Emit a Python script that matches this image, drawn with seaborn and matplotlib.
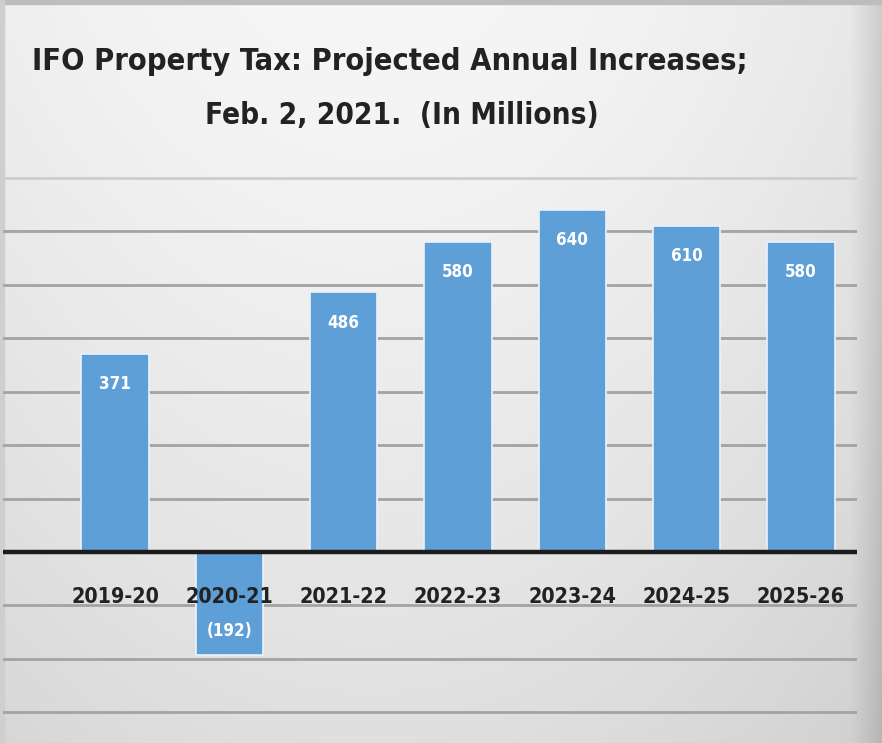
import numpy as np
import pandas as pd
import matplotlib
matplotlib.use("Agg")
import matplotlib.pyplot as plt
import seaborn as sns

# Fiscal years and projected annual increases (millions)
years = ["2019-20", "2020-21", "2021-22", "2022-23", "2023-24", "2024-25", "2025-26"]
increases = [371, -192, 486, 580, 640, 610, 580]
value_labels = ["371", "(192)", "486", "580", "640", "610", "580"]
grid_values = [-300, -200, -100, 100, 200, 300, 400, 500, 600, 700]

title_lines = ["IFO Property Tax: Projected Annual Increases;",
               "Feb. 2, 2021.  (In Millions)"]

df = pd.DataFrame({"year": years, "increase": increases})

sns.set_theme(style="white")
plt.rcParams["font.family"] = ["DejaVu Sans"]
plt.rcParams["font.stretch"] = "condensed"

W, H = 882, 743
fig = plt.figure(figsize=(W / 100, H / 100), dpi=100)

# soft slide-style background: light centre fading to grey at the edges
bg = fig.add_axes([0, 0, 1, 1], zorder=0)
yy, xx = np.mgrid[0:1:300j, 0:1:360j]
shade = 0.965 - 0.09 * yy ** 1.3 - 0.06 * (np.abs(xx - 0.42) / 0.58) ** 2
edge = np.clip((xx - 0.965) / 0.035, 0, 1)
shade = shade - 0.10 * edge
rgb = np.dstack([shade, shade, shade])
bg.imshow(rgb, extent=[0, 1, 0, 1], aspect="auto", origin="upper")
bg.axhspan(0.995, 1.0, color="#bdbdbd")
bg.axvspan(0.0, 0.004, color="#cfcfcf")
bg.set_xlim(0, 1)
bg.set_ylim(0, 1)
bg.axis("off")

# chart area
px_per_unit = 0.5347
zero_px = 552
ymax = zero_px / px_per_unit
ymin = -(H - zero_px) / px_per_unit
ax = fig.add_axes([3 / W, 0, 854 / W, 1], zorder=1)
ax.patch.set_alpha(0)

for g in grid_values:
    ax.axhline(g, color="#a3a3a3" if g < 700 else "#cdcdcd", lw=2.0, zorder=1)

sns.barplot(data=df, x="year", y="increase", color="#5f9fd8", width=0.59,
            edgecolor="#eaf3fb", linewidth=1.2, saturation=1, ax=ax, zorder=2)

ax.axhline(0, color="#1c1c1c", lw=3.2, zorder=3)

ax.set_xlim(-0.98, 6.49)
ax.set_ylim(ymin, ymax)
ax.set_xticks([])
ax.set_yticks([])
ax.set_xlabel("")
ax.set_ylabel("")
for s in ax.spines.values():
    s.set_visible(False)

fitted = []  # (text artist, target width in px)
for i, (v, lab) in enumerate(zip(increases, value_labels)):
    y = v - 57 if v >= 0 else v + 45
    t = ax.text(i, y, lab, ha="center", va="center", color="white",
                fontsize=14, fontweight="bold", zorder=4)
    fitted.append((t, 32 if v >= 0 else 46))
    t = ax.text(i, -84, years[i], ha="center", va="center", color="#222222",
                fontsize=22, fontweight="bold", zorder=4)
    fitted.append((t, 88))

t1 = fig.text(390 / W, 1 - 62 / H, title_lines[0], ha="center", va="center",
              fontsize=30, fontweight="bold", color="#222222")
t2 = fig.text(402 / W, 1 - 115 / H, title_lines[1], ha="center", va="center",
              fontsize=30, fontweight="bold", color="#222222")
fitted += [(t1, 712), (t2, 392)]

# size each label so it spans its intended width
renderer = fig.canvas.get_renderer()
for t, target in fitted:
    w = t.get_window_extent(renderer).width
    t.set_fontsize(t.get_fontsize() * target / w)

fig.savefig("out.png", dpi=100)
